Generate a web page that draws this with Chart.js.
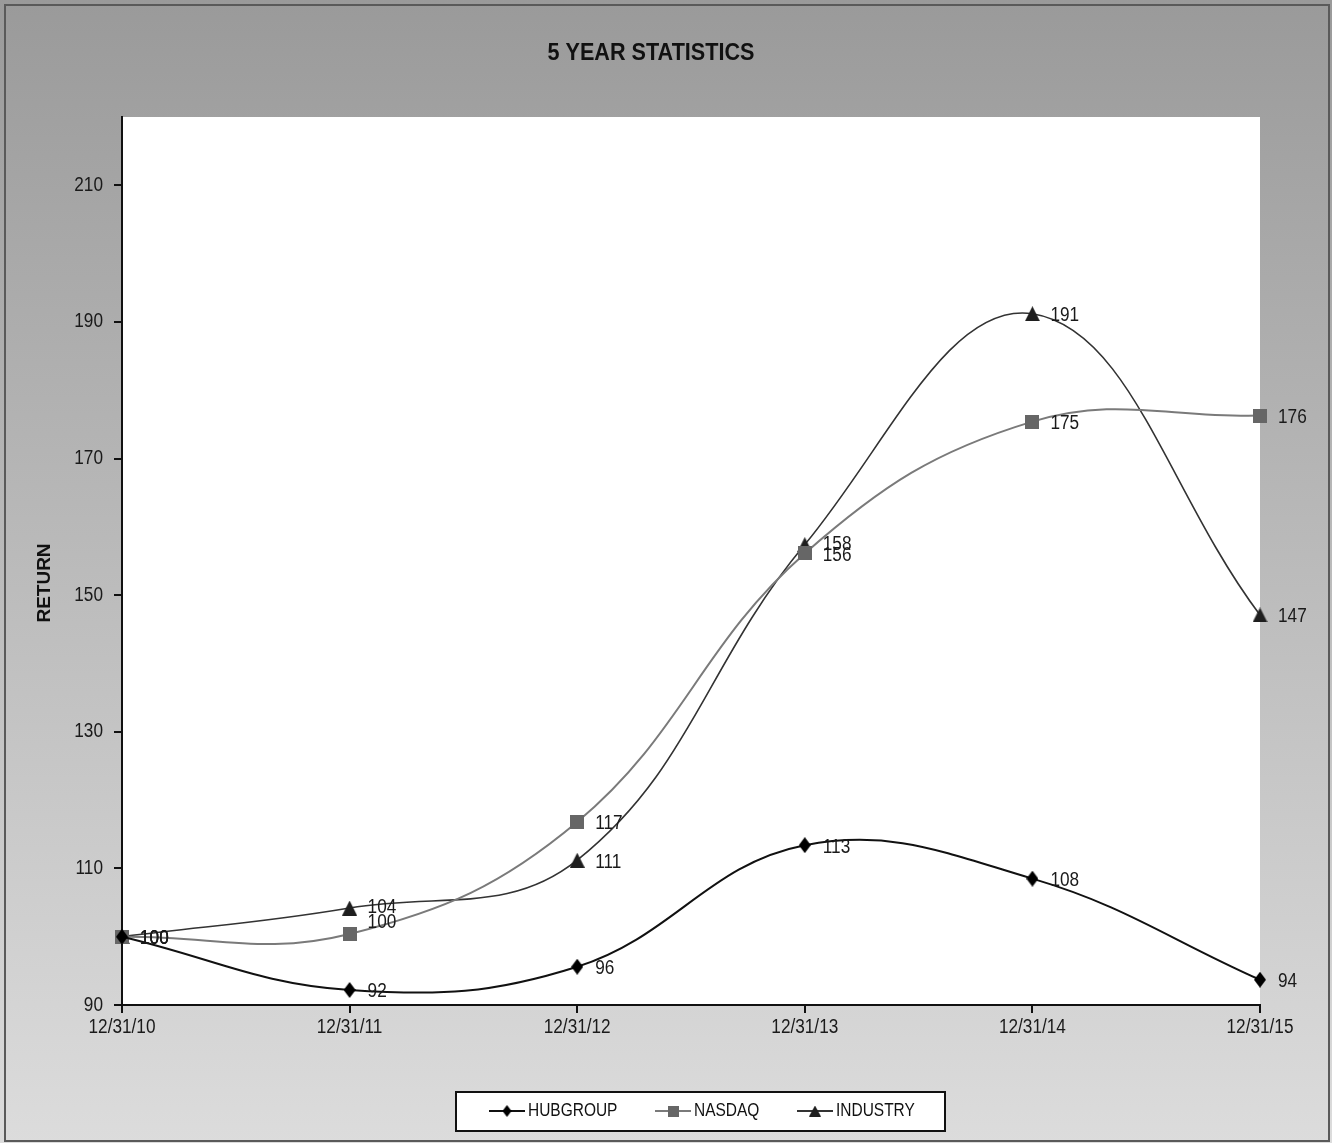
<!DOCTYPE html>
<html>
<head>
<meta charset="utf-8">
<script src="https://cdn.jsdelivr.net/npm/chart.js@4.4.1/dist/chart.umd.min.js"></script>
<style>
  html, body { margin: 0; padding: 0; background: #fff; }
  #wrap { width: 1332px; height: 1143px; }
</style>
</head>
<body>
<div id="wrap"><canvas id="c" width="1332" height="1143"></canvas></div>
<script>
const categories = ['12/31/10', '12/31/11', '12/31/12', '12/31/13', '12/31/14', '12/31/15'];
const hubgroup = [100, 92.2, 95.6, 113.4, 108.5, 93.7];
const nasdaq   = [100, 100.4, 116.8, 156.1, 175.4, 176.3];
const industry = [100, 104.2, 111.2, 157.4, 191.2, 147.1];
const hubgroupLabels = ['100', '92', '96', '113', '108', '94'];
const nasdaqLabels   = ['100', '100', '117', '156', '175', '176'];
const industryLabels = ['100', '104', '111', '158', '191', '147'];
const yTicks = [90, 110, 130, 150, 170, 190, 210];
const yMin = 90, yMax = 220;
const chartTitle = '5 YEAR STATISTICS';
const yTitle = 'RETURN';

const FONT = '"Liberation Sans", Arial, sans-serif';
const NARROW_X = 0.86;

function txt(ctx, s, x, y, size, opts) {
  opts = opts || {};
  ctx.save();
  ctx.font = (opts.bold ? 'bold ' : '') + size + 'px ' + FONT;
  ctx.fillStyle = opts.color || '#1a1a1a';
  ctx.textBaseline = 'middle';
  ctx.textAlign = opts.align || 'left';
  ctx.translate(x, y);
  if (opts.rotate) ctx.rotate(opts.rotate);
  let sx = opts.sx || NARROW_X;
  if (opts.fitWidth) sx = opts.fitWidth / ctx.measureText(s).width;
  ctx.scale(sx, 1);
  ctx.fillText(s, 0, 0);
  ctx.restore();
}

function makeMarker(kind, w, h, color) {
  const c = document.createElement('canvas');
  c.width = w; c.height = h;
  const g = c.getContext('2d');
  g.fillStyle = color;
  g.beginPath();
  if (kind === 'diamond') {
    g.moveTo(w / 2, 0); g.lineTo(w, h / 2); g.lineTo(w / 2, h); g.lineTo(0, h / 2);
  } else if (kind === 'triangle') {
    g.moveTo(w / 2, 0); g.lineTo(w, h); g.lineTo(0, h);
  } else {
    g.rect(0, 0, w, h);
  }
  g.closePath();
  g.fill();
  return c;
}

const markers = [
  makeMarker('diamond', 12, 16, '#000000'),
  makeMarker('square', 14, 14, '#666666'),
  makeMarker('triangle', 15, 15, '#1e1e1e')
];
const legendMarkers = [
  makeMarker('diamond', 9, 12, '#000000'),
  makeMarker('square', 11, 11, '#666666'),
  makeMarker('triangle', 12, 11, '#1e1e1e')
];
// small vertical nudges for overlapping value labels (dataset-index:point-index)
const labelNudge = { '1:1': -13, '2:1': -3, '2:3': -2 };

const bgPlugin = {
  id: 'bg',
  beforeDraw(chart) {
    const { ctx, width, height, chartArea: a } = chart;
    ctx.save();
    const g = ctx.createLinearGradient(0, 0, 0, height);
    g.addColorStop(0, '#9a9a9a');
    g.addColorStop(1, '#dcdcdc');
    ctx.fillStyle = g;
    ctx.fillRect(0, 0, width, height);
    ctx.strokeStyle = '#5a5a5a';
    ctx.lineWidth = 2;
    ctx.strokeRect(5, 5, width - 8, height - 7);
    ctx.fillStyle = '#ffffff';
    ctx.fillRect(a.left, a.top, a.right - a.left, a.bottom - a.top);
    ctx.restore();
  },
  afterDatasetsDraw(chart) {
    const { ctx } = chart;
    chart.data.datasets.forEach((d, i) => {
      const meta = chart.getDatasetMeta(i);
      meta.data.forEach((p, j) => {
        const dy = labelNudge[i + ':' + j] || 0;
        txt(ctx, d.valueLabels[j], p.x + 18, p.y + 2 + dy, 20);
      });
    });
  },
  afterDraw(chart) {
    const { ctx } = chart;
    const xs = chart.scales.x, ys = chart.scales.y;
    // tick labels
    categories.forEach((c, i) => {
      txt(ctx, c, xs.getPixelForTick(i), 1027, 20, { align: 'center' });
    });
    yTicks.forEach(v => {
      txt(ctx, String(v), 103, ys.getPixelForValue(v), 20, { align: 'right' });
    });
    // title
    txt(ctx, chartTitle, 651, 53, 24, { bold: true, align: 'center', fitWidth: 207, color: '#111' });
    // y title
    txt(ctx, yTitle, 45, 583, 19, { bold: true, align: 'center', rotate: -Math.PI / 2, sx: 1, color: '#111' });

    // legend
    ctx.save();
    ctx.fillStyle = '#fff';
    ctx.fillRect(456, 1092, 489, 39);
    ctx.strokeStyle = '#111';
    ctx.lineWidth = 2;
    ctx.strokeRect(456, 1092, 489, 39);
    ctx.restore();
    const items = [
      { ds: 0, x: 489 },
      { ds: 1, x: 655 },
      { ds: 2, x: 797 }
    ];
    const ly = 1111;
    items.forEach(it => {
      const d = chart.data.datasets[it.ds];
      ctx.save();
      ctx.strokeStyle = d.borderColor;
      ctx.lineWidth = 2;
      ctx.beginPath();
      ctx.moveTo(it.x, ly);
      ctx.lineTo(it.x + 36, ly);
      ctx.stroke();
      const m = legendMarkers[it.ds];
      ctx.drawImage(m, it.x + 18 - m.width / 2, ly - m.height / 2);
      ctx.restore();
      txt(ctx, d.label, it.x + 39, ly, 18, { color: '#111' });
    });
  }
};

new Chart(document.getElementById('c'), {
  type: 'line',
  data: {
    labels: categories,
    datasets: [
      {
        label: 'HUBGROUP', data: hubgroup, valueLabels: hubgroupLabels,
        borderColor: '#111111', backgroundColor: '#111111', borderWidth: 2,
        pointStyle: markers[0], pointRadius: 8,
        tension: 0.4, fill: false
      },
      {
        label: 'NASDAQ', data: nasdaq, valueLabels: nasdaqLabels,
        borderColor: '#7a7a7a', backgroundColor: '#666666', borderWidth: 2,
        pointStyle: markers[1], pointRadius: 8,
        tension: 0.4, fill: false
      },
      {
        label: 'INDUSTRY', data: industry, valueLabels: industryLabels,
        borderColor: '#333333', backgroundColor: '#222222', borderWidth: 1.6,
        pointStyle: markers[2], pointRadius: 8,
        tension: 0.4, fill: false
      }
    ]
  },
  plugins: [bgPlugin],
  options: {
    responsive: false,
    animation: false,
    devicePixelRatio: 1,
    layout: { padding: { top: 117, left: 0, right: 72, bottom: 98 } },
    plugins: {
      legend: { display: false },
      title: { display: false },
      tooltip: { enabled: false }
    },
    scales: {
      x: {
        type: 'category',
        offset: false,
        grid: { display: true, drawOnChartArea: false, drawTicks: true, tickLength: 8, color: '#111', lineWidth: 2 },
        border: { display: true, color: '#111', width: 2 },
        ticks: { display: false, autoSkip: false, maxRotation: 0 },
        afterFit(s) { s.height = 40; }
      },
      y: {
        min: yMin, max: yMax,
        afterBuildTicks(s) { s.ticks = yTicks.map(v => ({ value: v })); },
        grid: { display: true, drawOnChartArea: false, drawTicks: true, tickLength: 8, color: '#111', lineWidth: 2 },
        border: { display: true, color: '#111', width: 2 },
        ticks: { display: false },
        afterFit(s) { s.width = 122; }
      }
    }
  }
});
</script>
</body>
</html>
